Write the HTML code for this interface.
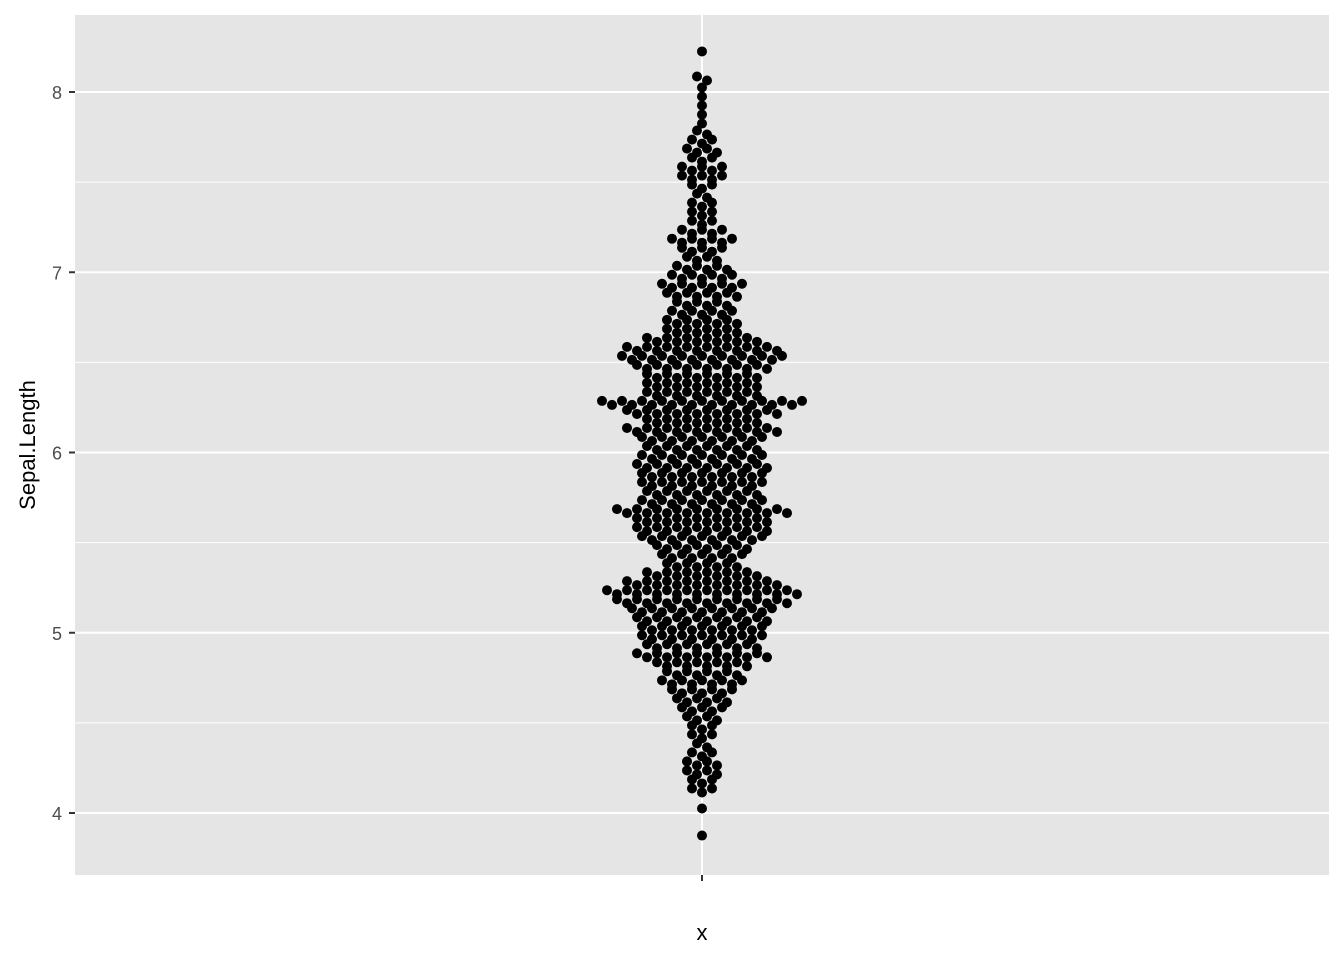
<!DOCTYPE html>
<html><head><meta charset="utf-8"><style>
body{margin:0;background:#fff}
svg text{font-family:"Liberation Sans",sans-serif}
</style></head><body>
<svg id="chart" width="1344" height="960">
<rect x="75" y="15" width="1254" height="860" fill="#e5e5e5"/>
<g id="grid"></g>
<g id="axes"></g>
<g id="dots"></g>
<text x="702" y="940" font-size="22" text-anchor="middle" fill="#000">x</text>
<text transform="translate(35,445) rotate(-90)" font-size="22" text-anchor="middle" fill="#000">Sepal.Length</text>
</svg>
<script>
const binStarts = [3.85,3.9,3.95,4.0,4.05,4.1,4.15,4.2,4.25,4.3,4.35,4.4,4.45,4.5,4.55,4.6,4.65,4.7,4.75,4.8,4.85,4.9,4.95,5.0,5.05,5.1,5.15,5.2,5.25,5.3,5.35,5.4,5.45,5.5,5.55,5.6,5.65,5.7,5.75,5.8,5.85,5.9,5.95,6.0,6.05,6.1,6.15,6.2,6.25,6.3,6.35,6.4,6.45,6.5,6.55,6.6,6.65,6.7,6.75,6.8,6.85,6.9,6.95,7.0,7.05,7.1,7.15,7.2,7.25,7.3,7.35,7.4,7.45,7.5,7.55,7.6,7.65,7.7,7.75,7.8,7.85,7.9,7.95,8.0,8.05,8.1,8.15,8.2];
const binCounts = [1,0,0,1,0,3,3,4,4,3,2,3,3,4,5,6,7,9,8,10,14,12,13,13,14,15,18,20,16,12,8,9,10,13,14,14,18,13,12,13,13,14,13,12,13,16,12,16,21,12,12,12,14,17,16,12,8,8,7,6,8,9,7,6,4,5,7,5,3,3,3,2,3,5,5,3,4,3,2,1,1,1,1,1,2,0,0,1];
const yTicks = [4,5,6,7,8];
const yMinor = [4.5,5.5,6.5,7.5];
const xCategories = ["x"];

const NS="http://www.w3.org/2000/svg";
const y = v => 813 - (v-4)*180.25;
const xc = () => 702;
function mk(tag, attrs, parent){const e=document.createElementNS(NS,tag);for(const k in attrs)e.setAttribute(k,attrs[k]);parent.appendChild(e);return e;}
const grid=document.getElementById('grid'), axes=document.getElementById('axes'), dots=document.getElementById('dots');
yMinor.forEach(v=>{const l=mk('line',{x1:75,x2:1329,y1:y(v),y2:y(v),stroke:'#fff','stroke-width':1},grid);

});
yTicks.forEach(v=>{const l=mk('line',{x1:75,x2:1329,y1:y(v),y2:y(v),stroke:'#fff','stroke-width':2},grid);


const t=mk('line',{x1:69,x2:75,y1:y(v),y2:y(v),stroke:'#333','stroke-width':2},axes);


const tx=mk('text',{x:62,y:y(v)+7,'font-size':18,'text-anchor':'end',fill:'#4d4d4d'},axes);tx.textContent=v;

});
xCategories.forEach(c=>{const l=mk('line',{x1:xc(c),x2:xc(c),y1:15,y2:875,stroke:'#fff','stroke-width':2},grid);


const t=mk('line',{x1:xc(c),x2:xc(c),y1:875,y2:881,stroke:'#333','stroke-width':2},axes);

});
binStarts.forEach((b,bi)=>{const n=binCounts[bi];
for(let i=0;i<n;i++){const off=(i-(n-1)/2)*10;const dy=(i%2?2:-2)*(n>1?1:0);
const c=mk('circle',{cx:xc()+off,cy:y(b+0.025)+dy,r:5,fill:'#000'},dots);

}});
</script>
</body></html>
